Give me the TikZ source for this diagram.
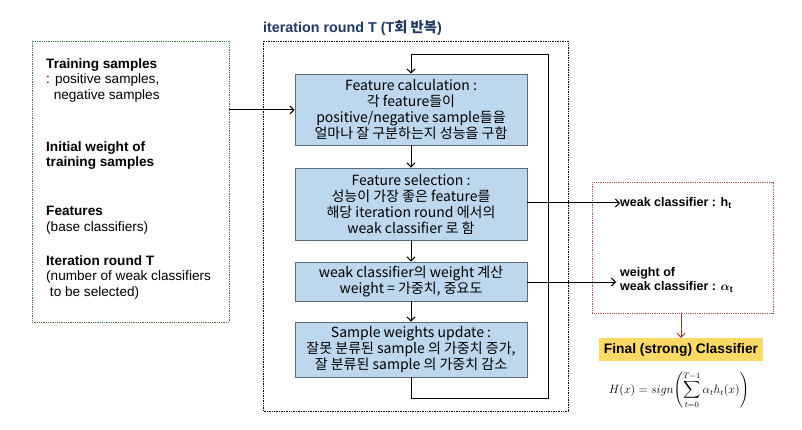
\documentclass[tikz,border=0pt]{standalone}
\usepackage{fontspec}
\usepackage{amsmath}
\setmainfont{Liberation Sans}
\newfontfamily\cjk{Noto Sans CJK KR}
\newfontfamily\cjkb{Noto Sans CJK KR Bold}
\usetikzlibrary{arrows.meta,positioning}
\definecolor{boxfill}{HTML}{BDD7EE}
\definecolor{boxline}{HTML}{5A6B7A}
\definecolor{navy}{HTML}{1F3864}
\definecolor{grn}{HTML}{3F7F3F}
\definecolor{brn}{HTML}{B0604A}
\definecolor{yel}{HTML}{FFD966}
\definecolor{darkred}{HTML}{A0301E}
\begin{document}
\begin{tikzpicture}[x=1pt,y=-1pt,
  stepbox/.style={draw=boxline,line width=0.9pt,fill=boxfill,minimum width=232pt,align=center,
    font=\cjk\fontsize{14}{16}\selectfont,inner sep=0pt},
  arr/.style={-{Straight Barb[length=4pt,width=8pt]},line width=1pt},
  lefttxt/.style={anchor=north west,align=left,font=\fontsize{13.6}{15.8}\selectfont,inner sep=0pt},
  outtxt/.style={anchor=west,inner sep=0pt,align=left,font=\bfseries\fontsize{12.5}{16.5}\selectfont}]
\useasboundingbox (0,0) rectangle (802,430);
% frames
\draw[grn,densely dotted,line width=0.8pt] (32,41) rectangle (229,322);
\draw[densely dotted,line width=0.7pt] (263,41) rectangle (568,411);
\draw[brn,densely dotted,line width=0.8pt] (592,182) rectangle (773,313);
\node[anchor=south west,inner sep=0pt,text=navy,font=\bfseries\fontsize{14.3}{16}\selectfont] (title) at (263,36) {iteration round T (T{\cjkb 회 반복})};
% left text
\node[lefttxt] (t1) at (46,58) {\textbf{Training samples}\\: positive samples,\\\ \ negative samples};
\node[lefttxt] (t2) at (46,141) {\textbf{Initial weight of}\\\textbf{training samples}};
\node[lefttxt] (t3) at (46,206) {\textbf{Features}\\(base classifiers)};
\node[lefttxt] (t4) at (46,255) {\textbf{Iteration round T}\\(number of weak classifiers\\\ to be selected)};
% step boxes
\node[stepbox,minimum height=71pt] (b1) at (411,109.5) {Feature calculation :\\각 feature들이\\positive/negative sample들을\\얼마나 잘 구분하는지 성능을 구함};
\node[stepbox,minimum height=72pt] (b2) at (411,204) {Feature selection :\\성능이 가장 좋은 feature를\\해당 iteration round 에서의\\weak classifier 로 함};
\node[stepbox,minimum height=39pt] (b3) at (411,281.5) {weak classifier의 weight 계산\\weight = 가중치, 중요도};
\node[stepbox,minimum height=55pt] (b4) at (411,349.5) {Sample weights update :\\잘못 분류된 sample 의 가중치 증가,\\잘 분류된 sample 의 가중치 감소};
\draw[arr] (b1) -- (b2);
\draw[arr] (b2) -- (b3);
\draw[arr] (b3) -- (b4);
% loop
\coordinate (l1) at (411,398);
\coordinate (l2) at (548,398);
\coordinate (l3) at (548,55);
\coordinate (l4) at (411,55);
\draw[arr] (b4.south) -- (l1) -- (l2) -- (l3) -- (l4) -- (b1.north);
% input arrow
\coordinate (in) at (229,110);
\draw[arr] (in) -- (b1.west |- in);
% outputs
\node[outtxt] (h) at (620,203) {weak classifier\ : h\textsubscript{t}};
\node[outtxt] (a) at (620,280) {weight of\\[-2pt]weak classifier\ : $\boldsymbol{\alpha}_{\mathbf{t}}$};
\draw[arr] (b2.east |- h) -- (h.west);
\draw[arr] (b3.east |- 0,282) -- (616,282);
% final
\node[fill=yel,inner sep=0pt,minimum width=164pt,minimum height=23pt,font=\bfseries\fontsize{13.8}{15}\selectfont] (fin) at (681,349.5) {Final (strong) Classifier};
\draw[arr,darkred,line width=0.8pt] (681,313) -- (fin.north);
\node[inner sep=0pt,font=\fontsize{11.5}{13}\selectfont] (form) at (679,390) {$\displaystyle H(x)=sign\!\left(\sum_{t=0}^{T-1}\alpha_t h_t(x)\right)$};
\end{tikzpicture}
\end{document}
